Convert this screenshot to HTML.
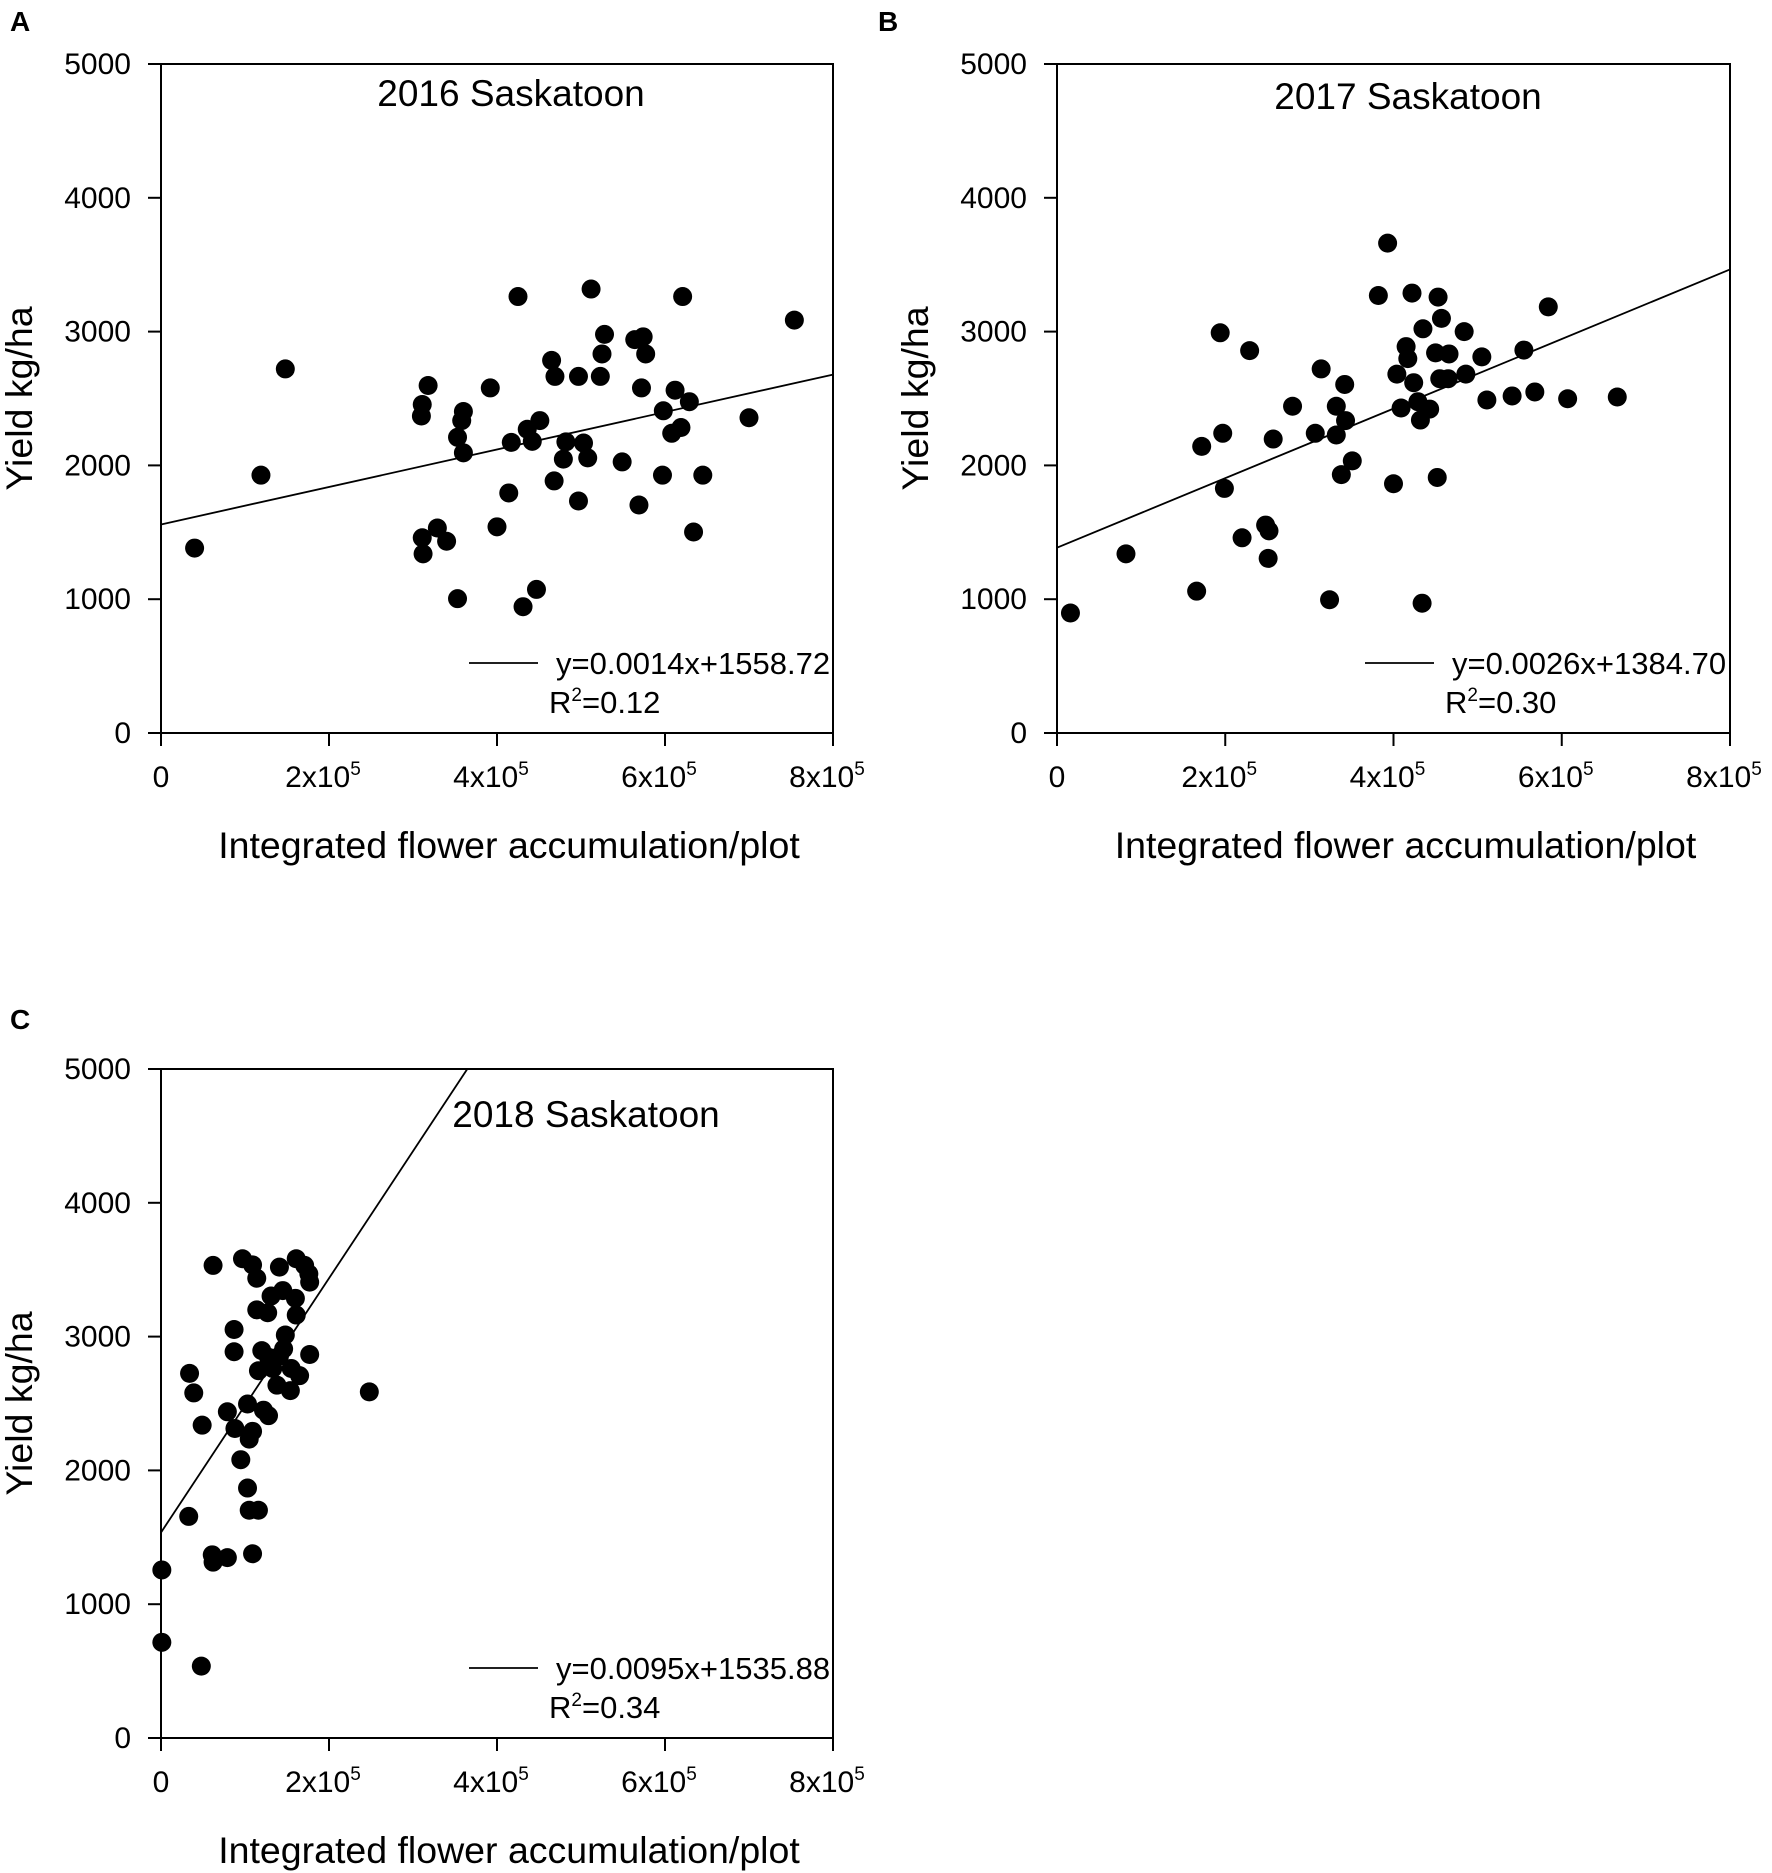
<!DOCTYPE html>
<html><head><meta charset="utf-8"><style>
html,body{margin:0;padding:0;background:#fff;}
svg{display:block;font-family:"Liberation Sans",Arial,sans-serif;}
</style></head><body>
<svg id="fig" width="1772" height="1873" viewBox="0 0 1772 1873" xmlns="http://www.w3.org/2000/svg"></svg>
<script>
const yTicks=[0,1000,2000,3000,4000,5000];
const xTickVals=[0,2,4,6,8];
const xTickLabels=["0","2x10","4x10","6x10","8x10"];
const titlesArr=["2016 Saskatoon","2017 Saskatoon","2018 Saskatoon"];
const lettersArr=["A","B","C"];
const slopes=[0.0014,0.0026,0.0095];
const intercepts=[1558.72,1384.70,1535.88];
const eqLabels=["y=0.0014x+1558.72","y=0.0026x+1384.70","y=0.0095x+1535.88"];
const r2Labels=["=0.12","=0.30","=0.34"];
// x in units of 1e5
const xA=[0.40,1.19,1.48,3.11,3.10,3.18,3.11,3.12,3.29,3.40,3.53,3.53,3.58,3.60,3.60,3.92,4.00,4.14,4.17,4.25,4.31,4.36,4.42,4.47,4.51,4.65,4.68,4.69,4.79,4.82,4.97,4.97,5.03,5.08,5.12,5.23,5.25,5.28,5.49,5.64,5.69,5.72,5.74,5.77,5.97,5.98,6.12,6.08,6.19,6.21,6.29,6.34,6.45,7.00,7.54];
const yA=[1382,1927,2721,2455,2369,2597,1459,1339,1532,1433,1004,2210,2335,2403,2094,2579,1541,1794,2172,3262,944,2270,2180,1073,2335,2785,1884,2665,2047,2176,2665,1734,2167,2056,3318,2665,2833,2979,2026,2940,1704,2579,2961,2833,1927,2408,2562,2240,2283,3262,2476,1502,1927,2356,3086];
const xB=[0.16,0.82,1.66,1.72,1.94,1.97,1.99,2.20,2.29,2.48,2.52,2.51,2.57,2.80,3.07,3.14,3.24,3.32,3.32,3.38,3.42,3.43,3.51,3.82,3.93,4.00,4.04,4.09,4.15,4.17,4.22,4.24,4.29,4.32,4.34,4.35,4.43,4.52,4.53,4.50,4.55,4.57,4.66,4.65,4.84,4.86,5.05,5.11,5.41,5.55,5.68,5.84,6.07,6.66];
const yB=[897,1339,1060,2142,2991,2240,1828,1459,2858,1554,1511,1305,2197,2442,2240,2721,996,2227,2442,1931,2605,2335,2034,3270,3661,1863,2682,2429,2888,2798,3288,2618,2476,2339,970,3021,2421,1910,3258,2841,2648,3099,2833,2648,3000,2682,2811,2489,2519,2862,2549,3185,2498,2511];
const xC=[0.01,0.01,0.48,0.33,0.34,0.39,0.49,0.62,0.61,0.62,0.79,0.79,0.87,0.87,0.88,0.95,0.97,1.03,1.05,1.09,1.09,1.05,1.16,1.03,1.09,1.14,1.14,1.20,1.22,1.28,1.16,1.27,1.31,1.41,1.41,1.38,1.45,1.48,1.46,1.54,1.55,1.60,1.61,1.61,1.65,1.71,1.76,1.77,1.77,2.48,1.28,1.33];
const yC=[1256,715,537,1656,2725,2579,2338,3532,1369,1314,1348,2438,3053,2887,2313,2080,3582,1868,2234,2292,1377,1702,1702,2496,3536,3436,3200,2895,2450,2409,2745,3178,3303,3519,2854,2637,3344,3012,2908,2596,2762,3286,3582,3161,2708,3532,3469,3407,2866,2587,2845,2762];
const xsAll=[xA,xB,xC], ysAll=[yA,yB,yC];
const panels=[{l:161,t:64,w:672,h:669},{l:1057,t:64,w:673,h:669},{l:161,t:1069,w:672,h:669}];
const letterPos=[[10,31],[878,31],[10,1029]];
const titleX=[511,1408,586],titleDy=[42,45,58];
const svg=document.getElementById('fig');
const NS='http://www.w3.org/2000/svg';
function mk(tag,attrs,parent){const e=document.createElementNS(NS,tag);for(const k in attrs)e.setAttribute(k,attrs[k]);(parent||svg).appendChild(e);return e;}
panels.forEach((p,i)=>{
  const g=mk('g',{});
  
  
  const sx=v=>p.l+v/8*p.w, sy=v=>p.t+p.h-v/5000*p.h;
  const L=mk('text',{x:letterPos[i][0],y:letterPos[i][1],'font-size':28,'font-weight':'bold'},g);L.textContent=lettersArr[i];
  
  
  const fr=mk('rect',{x:p.l,y:p.t,width:p.w,height:p.h,fill:'none',stroke:'#000','stroke-width':2},g);
  
  
  yTicks.forEach(v=>{
    mk('line',{x1:p.l-13,x2:p.l,y1:sy(v),y2:sy(v),stroke:'#000','stroke-width':2},g);
    const t=mk('text',{x:p.l-30,y:sy(v)+10,'font-size':30,'text-anchor':'end'},g);t.textContent=v;
    
    
  });
  xTickVals.forEach((v,j)=>{
    mk('line',{x1:sx(v),x2:sx(v),y1:p.t+p.h,y2:p.t+p.h+13,stroke:'#000','stroke-width':2},g);
    const t=mk('text',{x:sx(v)+(j?-6:0),y:p.t+p.h+54,'font-size':30,'text-anchor':'middle'},g);
    t.textContent=xTickLabels[j];
    if(j){const s=mk('tspan',{'font-size':19,dy:-12},t);s.textContent='5';}
    
    
  });
  const xt=mk('text',{x:p.l+p.w/2+12,y:p.t+p.h+125,'font-size':37.5,'text-anchor':'middle'},g);xt.textContent='Integrated flower accumulation/plot';
  
  
  const yt=mk('text',{x:0,y:0,'font-size':37.5,'text-anchor':'middle',transform:`translate(${p.l-129},${p.t+p.h/2}) rotate(-90)`},g);yt.textContent='Yield kg/ha';
  
  
  const tt=mk('text',{x:titleX[i],y:p.t+titleDy[i],'font-size':37,'text-anchor':'middle'},g);tt.textContent=titlesArr[i];
  
  
  xsAll[i].forEach((xv,k)=>{
    const c=mk('circle',{cx:sx(xv),cy:sy(ysAll[i][k]),r:9.5,fill:'#000'},g);
    
    
  });
  let x2=8,y2=slopes[i]*8e5+intercepts[i];
  if(y2>5000){x2=(5000-intercepts[i])/slopes[i]/1e5;y2=5000;}
  const rl=mk('line',{x1:sx(0),y1:sy(intercepts[i]),x2:sx(x2),y2:sy(y2),stroke:'#000','stroke-width':1.8},g);
  
  
  const lg=mk('g',{},g);
  
  
  const b=p.t+p.h;
  mk('line',{x1:p.l+308,x2:p.l+377,y1:b-70,y2:b-70,stroke:'#000','stroke-width':1.8},lg);
  const et=mk('text',{x:p.l+395,y:b-59,'font-size':31},lg);et.textContent=eqLabels[i];
  const rt=mk('text',{x:p.l+388,y:b-20,'font-size':31},lg);rt.textContent='R';
  const sup=mk('tspan',{'font-size':19,dy:-12},rt);sup.textContent='2';
  const rest=mk('tspan',{dy:12},rt);rest.textContent=r2Labels[i];
});
</script>
</body></html>
